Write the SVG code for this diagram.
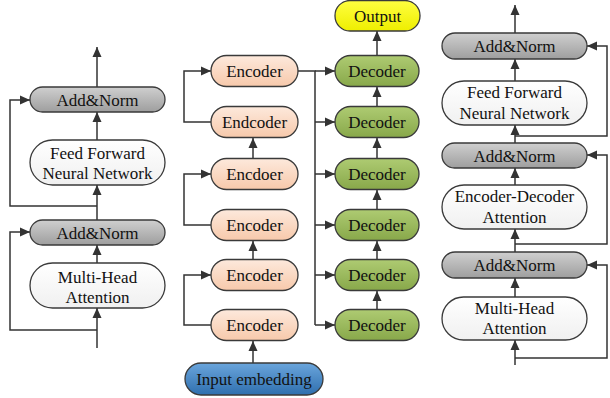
<svg xmlns="http://www.w3.org/2000/svg" width="610" height="398" viewBox="0 0 610 398">
<defs>
<linearGradient id="gGray" x1="0" y1="0" x2="0" y2="1"><stop offset="0" stop-color="#cfcfcf"/><stop offset="1" stop-color="#9e9e9e"/></linearGradient>
<linearGradient id="gWhite" x1="0" y1="0" x2="0" y2="1"><stop offset="0" stop-color="#ffffff"/><stop offset="1" stop-color="#f0f0f0"/></linearGradient>
<linearGradient id="gPeach" x1="0" y1="0" x2="0" y2="1"><stop offset="0" stop-color="#fde9dc"/><stop offset="1" stop-color="#f7c9ab"/></linearGradient>
<linearGradient id="gGreen" x1="0" y1="0" x2="0" y2="1"><stop offset="0" stop-color="#aecb72"/><stop offset="1" stop-color="#88a84a"/></linearGradient>
<linearGradient id="gYellow" x1="0" y1="0" x2="0" y2="1"><stop offset="0" stop-color="#ffff40"/><stop offset="1" stop-color="#eeee00"/></linearGradient>
<linearGradient id="gBlue" x1="0" y1="0" x2="0" y2="1"><stop offset="0" stop-color="#6aa5dc"/><stop offset="1" stop-color="#2f6fae"/></linearGradient>
<marker id="ah" viewBox="0 0 10 10" refX="10" refY="5" markerWidth="10" markerHeight="10" markerUnits="userSpaceOnUse" orient="auto">
<path d="M0,0.5 L10,5 L0,9.5 Z" fill="#333"/>
</marker>
</defs>
<style>
.box{stroke:#3a3a3a;stroke-width:1.3}
.gray{fill:url(#gGray)}
.white{fill:url(#gWhite)}
.peach{fill:url(#gPeach)}
.green{fill:url(#gGreen)}
.yellow{fill:url(#gYellow)}
.blue{fill:url(#gBlue)}
.t{font-family:'Liberation Serif','Times New Roman',Times,serif;font-size:17px;fill:#111;text-anchor:middle}
.c path,.c line{fill:none;stroke:#333;stroke-width:1.5}
.a{marker-end:url(#ah)}
</style>
<rect width="610" height="398" fill="#fff"/>

<g class="c" id="connectors">
<line class="a" x1="97" y1="348" x2="97" y2="308"/>
<line class="a" x1="97" y1="263" x2="97" y2="245"/>
<line class="a" x1="97" y1="220" x2="97" y2="185"/>
<line class="a" x1="97" y1="140" x2="97" y2="112"/>
<line class="a" x1="97" y1="87" x2="97" y2="47"/>
<path class="a" d="M97,330 H10 V232 H30"/>
<path class="a" d="M97,206 H10 V100 H30"/>
<line class="a" x1="253" y1="363" x2="253" y2="341"/>
<path class="a" d="M211,325 H184 V275 H211"/>
<line class="a" x1="253" y1="259" x2="253" y2="241"/>
<path class="a" d="M211,225 H184 V174 H211"/>
<line class="a" x1="253" y1="158" x2="253" y2="138"/>
<path class="a" d="M211,122 H184 V71 H211"/>
<path d="M298,71 H315 V325"/>
<line class="a" x1="315" y1="71" x2="335" y2="71"/>
<line class="a" x1="315" y1="122" x2="335" y2="122"/>
<line class="a" x1="315" y1="174" x2="335" y2="174"/>
<line class="a" x1="315" y1="225" x2="335" y2="225"/>
<line class="a" x1="315" y1="275" x2="335" y2="275"/>
<line class="a" x1="315" y1="325" x2="335" y2="325"/>
<line class="a" x1="377" y1="309" x2="377" y2="291"/>
<line class="a" x1="377" y1="259" x2="377" y2="241"/>
<line class="a" x1="377" y1="209" x2="377" y2="190"/>
<line class="a" x1="377" y1="158" x2="377" y2="138"/>
<line class="a" x1="377" y1="106" x2="377" y2="87"/>
<line class="a" x1="377" y1="55" x2="377" y2="31"/>
<line class="a" x1="515" y1="365" x2="515" y2="340"/>
<line class="a" x1="515" y1="297" x2="515" y2="278"/>
<line class="a" x1="515" y1="252" x2="515" y2="229"/>
<line class="a" x1="515" y1="185" x2="515" y2="168"/>
<line class="a" x1="515" y1="143" x2="515" y2="125"/>
<line class="a" x1="515" y1="81" x2="515" y2="59"/>
<line class="a" x1="515" y1="33" x2="515" y2="5"/>
<path class="a" d="M515,358 H607 V265 H587"/>
<path class="a" d="M515,244 H607 V155 H587"/>
<path class="a" d="M515,136 H607 V46 H587"/>
</g>

<g id="l-addnorm1"><rect class="box gray" x="30" y="87" width="135" height="25" rx="12.5"/><text class="t" x="97.5" y="105.5">Add&amp;Norm</text></g>
<g id="l-ffn"><rect class="box white" x="30" y="140" width="135" height="45" rx="22.5"/><text class="t" x="97.5" y="158.5">Feed Forward</text><text class="t" x="97.5" y="178.5">Neural Network</text></g>
<g id="l-addnorm2"><rect class="box gray" x="30" y="220" width="135" height="25" rx="12.5"/><text class="t" x="97.5" y="238.5">Add&amp;Norm</text></g>
<g id="l-mha"><rect class="box white" x="30" y="263" width="135" height="45" rx="22.5"/><text class="t" x="97.5" y="282.5">Multi-Head</text><text class="t" x="97.5" y="302.5">Attention</text></g>

<g id="enc1"><rect class="box peach" x="211" y="55.5" width="87" height="31" rx="15.5"/><text class="t" x="254.5" y="77">Encoder</text></g>
<g id="enc2"><rect class="box peach" x="211" y="106.5" width="87" height="31" rx="15.5"/><text class="t" x="254.5" y="128">Endcoder</text></g>
<g id="enc3"><rect class="box peach" x="211" y="158.5" width="87" height="31" rx="15.5"/><text class="t" x="254.5" y="180">Encdoer</text></g>
<g id="enc4"><rect class="box peach" x="211" y="209.5" width="87" height="31" rx="15.5"/><text class="t" x="254.5" y="231">Encoder</text></g>
<g id="enc5"><rect class="box peach" x="211" y="259.5" width="87" height="31" rx="15.5"/><text class="t" x="254.5" y="281">Encoder</text></g>
<g id="enc6"><rect class="box peach" x="211" y="309.5" width="87" height="31" rx="15.5"/><text class="t" x="254.5" y="331">Encoder</text></g>
<g id="input"><rect class="box blue" x="185" y="363" width="138" height="32" rx="16"/><text class="t" x="254" y="385">Input embedding</text></g>

<g id="dec1"><rect class="box green" x="335" y="55.5" width="84" height="31" rx="15.5"/><text class="t" x="377" y="77">Decoder</text></g>
<g id="dec2"><rect class="box green" x="335" y="106.5" width="84" height="31" rx="15.5"/><text class="t" x="377" y="128">Decoder</text></g>
<g id="dec3"><rect class="box green" x="335" y="158.5" width="84" height="31" rx="15.5"/><text class="t" x="377" y="180">Decoder</text></g>
<g id="dec4"><rect class="box green" x="335" y="209.5" width="84" height="31" rx="15.5"/><text class="t" x="377" y="231">Decoder</text></g>
<g id="dec5"><rect class="box green" x="335" y="259.5" width="84" height="31" rx="15.5"/><text class="t" x="377" y="281">Decoder</text></g>
<g id="dec6"><rect class="box green" x="335" y="309.5" width="84" height="31" rx="15.5"/><text class="t" x="377" y="331">Decoder</text></g>
<g id="output"><rect class="box yellow" x="335" y="0.5" width="85" height="30.5" rx="15"/><text class="t" x="377.5" y="21.5">Output</text></g>

<g id="r-addnorm1"><rect class="box gray" x="442" y="33" width="145" height="26" rx="13"/><text class="t" x="514.5" y="52">Add&amp;Norm</text></g>
<g id="r-ffn"><rect class="box white" x="442" y="81" width="145" height="44" rx="22"/><text class="t" x="514.5" y="98">Feed Forward</text><text class="t" x="514.5" y="118.5">Neural Network</text></g>
<g id="r-addnorm2"><rect class="box gray" x="442" y="143" width="145" height="25" rx="12.5"/><text class="t" x="514.5" y="161.5">Add&amp;Norm</text></g>
<g id="r-eda"><rect class="box white" x="442" y="185" width="145" height="44" rx="22"/><text class="t" x="514.5" y="202">Encoder-Decoder</text><text class="t" x="514.5" y="222.5">Attention</text></g>
<g id="r-addnorm3"><rect class="box gray" x="442" y="252" width="145" height="26" rx="13"/><text class="t" x="514.5" y="271">Add&amp;Norm</text></g>
<g id="r-mha"><rect class="box white" x="442" y="297" width="145" height="43" rx="21.5"/><text class="t" x="514.5" y="314">Multi-Head</text><text class="t" x="514.5" y="334">Attention</text></g>
</svg>
